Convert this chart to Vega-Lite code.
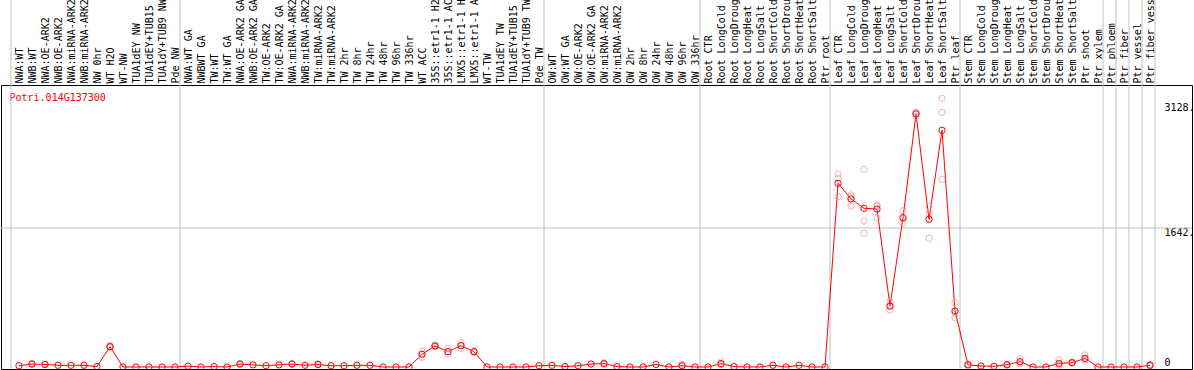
{
  "$schema": "https://vega.github.io/schema/vega-lite/v6.json",
  "width": 1191,
  "height": 284,
  "autosize": {"type": "none"},
  "padding": {"top": 85, "left": 1, "right": 2, "bottom": 1},
  "background": "white",
  "config": {"view": {"stroke": "black", "strokeWidth": 1}, "font": "DejaVu Sans Mono"},
  "datasets": {
    "means": [
      {"name": "NWA:WT", "value": 15, "edge": "start"},
      {"name": "NWB:WT", "value": 35, "edge": ""},
      {"name": "NWA:OE-ARK2", "value": 30, "edge": ""},
      {"name": "NWB:OE-ARK2", "value": 20, "edge": ""},
      {"name": "NWA:miRNA-ARK2", "value": 20, "edge": ""},
      {"name": "NWB:miRNA-ARK2", "value": 20, "edge": ""},
      {"name": "NW 0hr", "value": 5, "edge": ""},
      {"name": "WT H2O", "value": 240, "edge": ""},
      {"name": "WT-NW", "value": 0, "edge": ""},
      {"name": "TUA1dEY NW", "value": 0, "edge": ""},
      {"name": "TUA1dEY+TUB15 NW", "value": 0, "edge": ""},
      {"name": "TUA1dY+TUB9 NW", "value": 0, "edge": ""},
      {"name": "Pde NW", "value": 0, "edge": "end"},
      {"name": "NWA:WT GA", "value": 10, "edge": ""},
      {"name": "NWBWT GA", "value": 0, "edge": ""},
      {"name": "TW:WT", "value": 5, "edge": ""},
      {"name": "TW:WT GA", "value": 0, "edge": ""},
      {"name": "NWA:OE-ARK2 GA", "value": 35, "edge": ""},
      {"name": "NWB:OE-ARK2 GA", "value": 25, "edge": ""},
      {"name": "TW:OE-ARK2", "value": 15, "edge": ""},
      {"name": "TW:OE-ARK2 GA", "value": 25, "edge": ""},
      {"name": "NWA:miRNA-ARK2 GA", "value": 35, "edge": ""},
      {"name": "NWB:miRNA-ARK2 GA", "value": 20, "edge": ""},
      {"name": "TW:miRNA-ARK2", "value": 30, "edge": ""},
      {"name": "TW:miRNA-ARK2 GA", "value": 15, "edge": ""},
      {"name": "TW 2hr", "value": 15, "edge": ""},
      {"name": "TW 8hr", "value": 20, "edge": ""},
      {"name": "TW 24hr", "value": 20, "edge": ""},
      {"name": "TW 48hr", "value": 0, "edge": ""},
      {"name": "TW 96hr", "value": 0, "edge": ""},
      {"name": "TW 336hr", "value": 0, "edge": ""},
      {"name": "WT ACC", "value": 150, "edge": ""},
      {"name": "35S::etr1-1 H2O", "value": 248, "edge": ""},
      {"name": "35S::etr1-1 ACC", "value": 181, "edge": ""},
      {"name": "LMX5::etr1-1 H2O", "value": 252, "edge": ""},
      {"name": "LMX5::etr1-1 ACC", "value": 181, "edge": ""},
      {"name": "WT-TW", "value": 0, "edge": ""},
      {"name": "TUA1dEY TW", "value": 0, "edge": ""},
      {"name": "TUA1dEY+TUB15 TW", "value": 0, "edge": ""},
      {"name": "TUA1dY+TUB9 TW", "value": 0, "edge": ""},
      {"name": "Pde TW", "value": 15, "edge": "end"},
      {"name": "OW:WT", "value": 20, "edge": ""},
      {"name": "OW:WT GA", "value": 5, "edge": ""},
      {"name": "OW:OE-ARK2", "value": 15, "edge": ""},
      {"name": "OW:OE-ARK2 GA", "value": 35, "edge": ""},
      {"name": "OW:miRNA-ARK2", "value": 40, "edge": ""},
      {"name": "OW:miRNA-ARK2 GA", "value": 5, "edge": ""},
      {"name": "OW 2hr", "value": 0, "edge": ""},
      {"name": "OW 8hr", "value": 0, "edge": ""},
      {"name": "OW 24hr", "value": 30, "edge": ""},
      {"name": "OW 48hr", "value": 0, "edge": ""},
      {"name": "OW 96hr", "value": 15, "edge": ""},
      {"name": "OW 336hr", "value": 0, "edge": "end"},
      {"name": "Root CTR", "value": 0, "edge": ""},
      {"name": "Root LongCold", "value": 40, "edge": ""},
      {"name": "Root LongDrought", "value": 5, "edge": ""},
      {"name": "Root LongHeat", "value": 0, "edge": ""},
      {"name": "Root LongSalt", "value": 0, "edge": ""},
      {"name": "Root ShortCold", "value": 20, "edge": ""},
      {"name": "Root ShortDrought", "value": 0, "edge": ""},
      {"name": "Root ShortHeat", "value": 20, "edge": ""},
      {"name": "Root ShortSalt", "value": 0, "edge": ""},
      {"name": "Ptr root", "value": 0, "edge": "end"},
      {"name": "Leaf CTR", "value": 2170, "edge": ""},
      {"name": "Leaf LongCold", "value": 1985, "edge": ""},
      {"name": "Leaf LongDrought", "value": 1875, "edge": ""},
      {"name": "Leaf LongHeat", "value": 1866, "edge": ""},
      {"name": "Leaf LongSalt", "value": 720, "edge": ""},
      {"name": "Leaf ShortCold", "value": 1764, "edge": ""},
      {"name": "Leaf ShortDrought", "value": 2989, "edge": ""},
      {"name": "Leaf ShortHeat", "value": 1745, "edge": ""},
      {"name": "Leaf ShortSalt", "value": 2796, "edge": ""},
      {"name": "Ptr leaf", "value": 661, "edge": "end"},
      {"name": "Stem CTR", "value": 25, "edge": ""},
      {"name": "Stem LongCold", "value": 12, "edge": ""},
      {"name": "Stem LongDrought", "value": 8, "edge": ""},
      {"name": "Stem LongHeat", "value": 27, "edge": ""},
      {"name": "Stem LongSalt", "value": 63, "edge": ""},
      {"name": "Stem ShortCold", "value": 0, "edge": ""},
      {"name": "Stem ShortDrought", "value": 0, "edge": ""},
      {"name": "Stem ShortHeat", "value": 43, "edge": ""},
      {"name": "Stem ShortSalt", "value": 51, "edge": ""},
      {"name": "Ptr shoot", "value": 102, "edge": ""},
      {"name": "Ptr xylem", "value": 0, "edge": "end"},
      {"name": "Ptr phloem", "value": 0, "edge": "end"},
      {"name": "Ptr fiber", "value": 0, "edge": "end"},
      {"name": "Ptr vessel", "value": 0, "edge": "end"},
      {"name": "Ptr fiber vessel", "value": 20, "edge": "end"}
    ],
    "reps": [
      {"name": "NWB:WT", "value": 45}, {"name": "NWB:WT", "value": 30},
      {"name": "NWA:OE-ARK2", "value": 38}, {"name": "NWA:OE-ARK2", "value": 25},
      {"name": "WT H2O", "value": 230}, {"name": "WT H2O", "value": 250}, {"name": "WT H2O", "value": 245},
      {"name": "NWA:OE-ARK2 GA", "value": 42}, {"name": "NWA:OE-ARK2 GA", "value": 30},
      {"name": "NWA:miRNA-ARK2 GA", "value": 42}, {"name": "NWA:miRNA-ARK2 GA", "value": 30},
      {"name": "TW:miRNA-ARK2", "value": 38}, {"name": "TW:miRNA-ARK2", "value": 25},
      {"name": "WT ACC", "value": 185}, {"name": "WT ACC", "value": 150}, {"name": "WT ACC", "value": 115},
      {"name": "35S::etr1-1 H2O", "value": 260}, {"name": "35S::etr1-1 H2O", "value": 240}, {"name": "35S::etr1-1 H2O", "value": 245},
      {"name": "35S::etr1-1 ACC", "value": 220}, {"name": "35S::etr1-1 ACC", "value": 181}, {"name": "35S::etr1-1 ACC", "value": 153},
      {"name": "LMX5::etr1-1 H2O", "value": 287}, {"name": "LMX5::etr1-1 H2O", "value": 252}, {"name": "LMX5::etr1-1 H2O", "value": 220},
      {"name": "LMX5::etr1-1 ACC", "value": 190}, {"name": "LMX5::etr1-1 ACC", "value": 175}, {"name": "LMX5::etr1-1 ACC", "value": 180},
      {"name": "OW:miRNA-ARK2", "value": 50}, {"name": "OW:miRNA-ARK2", "value": 32},
      {"name": "OW 96hr", "value": 28}, {"name": "OW 96hr", "value": 10},
      {"name": "Root LongCold", "value": 62}, {"name": "Root LongCold", "value": 30}, {"name": "Root LongCold", "value": 28},
      {"name": "Leaf CTR", "value": 2280}, {"name": "Leaf CTR", "value": 2229}, {"name": "Leaf CTR", "value": 2012},
      {"name": "Leaf LongCold", "value": 2032}, {"name": "Leaf LongCold", "value": 1902}, {"name": "Leaf LongCold", "value": 2010},
      {"name": "Leaf LongDrought", "value": 2335}, {"name": "Leaf LongDrought", "value": 1725}, {"name": "Leaf LongDrought", "value": 1579},
      {"name": "Leaf LongHeat", "value": 1914}, {"name": "Leaf LongHeat", "value": 1764}, {"name": "Leaf LongHeat", "value": 1900},
      {"name": "Leaf LongSalt", "value": 772}, {"name": "Leaf LongSalt", "value": 673}, {"name": "Leaf LongSalt", "value": 720},
      {"name": "Leaf ShortCold", "value": 1847}, {"name": "Leaf ShortCold", "value": 1697}, {"name": "Leaf ShortCold", "value": 1750},
      {"name": "Leaf ShortDrought", "value": 3000}, {"name": "Leaf ShortDrought", "value": 2960}, {"name": "Leaf ShortDrought", "value": 3010},
      {"name": "Leaf ShortHeat", "value": 1902}, {"name": "Leaf ShortHeat", "value": 1816}, {"name": "Leaf ShortHeat", "value": 1520},
      {"name": "Leaf ShortSalt", "value": 3174}, {"name": "Leaf ShortSalt", "value": 3009}, {"name": "Leaf ShortSalt", "value": 2217},
      {"name": "Ptr leaf", "value": 760}, {"name": "Ptr leaf", "value": 583}, {"name": "Ptr leaf", "value": 640},
      {"name": "Stem CTR", "value": 35}, {"name": "Stem CTR", "value": 20},
      {"name": "Stem LongHeat", "value": 35}, {"name": "Stem LongHeat", "value": 20},
      {"name": "Stem LongSalt", "value": 102}, {"name": "Stem LongSalt", "value": 50}, {"name": "Stem LongSalt", "value": 40},
      {"name": "Stem ShortHeat", "value": 83}, {"name": "Stem ShortHeat", "value": 30}, {"name": "Stem ShortHeat", "value": 20},
      {"name": "Stem ShortSalt", "value": 60}, {"name": "Stem ShortSalt", "value": 45},
      {"name": "Ptr shoot", "value": 142}, {"name": "Ptr shoot", "value": 90}, {"name": "Ptr shoot", "value": 75},
      {"name": "Ptr fiber vessel", "value": 30}, {"name": "Ptr fiber vessel", "value": 20}, {"name": "Ptr fiber vessel", "value": 10}
    ]
  },
  "encoding": {
    "x": {
      "field": "name",
      "type": "ordinal",
      "scale": {
        "type": "point",
        "padding": 0,
        "range": [18, 1149],
        "domain": ["NWA:WT", "NWB:WT", "NWA:OE-ARK2", "NWB:OE-ARK2", "NWA:miRNA-ARK2", "NWB:miRNA-ARK2", "NW 0hr", "WT H2O", "WT-NW", "TUA1dEY NW", "TUA1dEY+TUB15 NW", "TUA1dY+TUB9 NW", "Pde NW", "NWA:WT GA", "NWBWT GA", "TW:WT", "TW:WT GA", "NWA:OE-ARK2 GA", "NWB:OE-ARK2 GA", "TW:OE-ARK2", "TW:OE-ARK2 GA", "NWA:miRNA-ARK2 GA", "NWB:miRNA-ARK2 GA", "TW:miRNA-ARK2", "TW:miRNA-ARK2 GA", "TW 2hr", "TW 8hr", "TW 24hr", "TW 48hr", "TW 96hr", "TW 336hr", "WT ACC", "35S::etr1-1 H2O", "35S::etr1-1 ACC", "LMX5::etr1-1 H2O", "LMX5::etr1-1 ACC", "WT-TW", "TUA1dEY TW", "TUA1dEY+TUB15 TW", "TUA1dY+TUB9 TW", "Pde TW", "OW:WT", "OW:WT GA", "OW:OE-ARK2", "OW:OE-ARK2 GA", "OW:miRNA-ARK2", "OW:miRNA-ARK2 GA", "OW 2hr", "OW 8hr", "OW 24hr", "OW 48hr", "OW 96hr", "OW 336hr", "Root CTR", "Root LongCold", "Root LongDrought", "Root LongHeat", "Root LongSalt", "Root ShortCold", "Root ShortDrought", "Root ShortHeat", "Root ShortSalt", "Ptr root", "Leaf CTR", "Leaf LongCold", "Leaf LongDrought", "Leaf LongHeat", "Leaf LongSalt", "Leaf ShortCold", "Leaf ShortDrought", "Leaf ShortHeat", "Leaf ShortSalt", "Ptr leaf", "Stem CTR", "Stem LongCold", "Stem LongDrought", "Stem LongHeat", "Stem LongSalt", "Stem ShortCold", "Stem ShortDrought", "Stem ShortHeat", "Stem ShortSalt", "Ptr shoot", "Ptr xylem", "Ptr phloem", "Ptr fiber", "Ptr vessel", "Ptr fiber vessel"]
      },
      "axis": {
        "orient": "top",
        "labelAngle": -90,
        "labelAlign": "left",
        "labelBaseline": "middle",
        "labelPadding": 2,
        "ticks": false,
        "domain": false,
        "grid": false,
        "labelFont": "DejaVu Sans Mono",
        "labelFontSize": 10,
        "labelColor": "black",
        "labelOverlap": false,
        "labelLimit": 0,
        "title": null
      }
    },
    "y": {
      "field": "value",
      "type": "quantitative",
      "scale": {"domain": [-23.6, 3331], "zero": false, "nice": false},
      "axis": {
        "orient": "right",
        "values": [0, 1642, 3128],
        "labelExpr": "datum.value == 0 ? '0' : datum.value + '.'",
        "ticks": false,
        "tickSize": 0,
        "domain": false,
        "labelPadding": -28,
        "labelAlign": "left",
        "labelBaseline": {"condition": {"test": "datum.value == 0", "value": "bottom"}, "value": "top"},
        "labelFont": "DejaVu Sans Mono",
        "labelFontSize": 10,
        "labelColor": "black",
        "labelFlush": false,
        "labelOverlap": false,
        "grid": false,
        "title": "Potri.014G137300",
        "titleAngle": 0,
        "titleX": -1183,
        "titleY": 12,
        "titleAlign": "left",
        "titleBaseline": "middle",
        "titleColor": "red",
        "titleFont": "DejaVu Sans Mono",
        "titleFontSize": 10,
        "titleFontWeight": "normal"
      }
    }
  },
  "layer": [
    {
      "data": {"values": [{"tick": 1642}]},
      "mark": {"type": "rule", "color": "#c0c0c0", "strokeWidth": 1},
      "encoding": {"x": {"value": 0}, "x2": {"value": 1191}, "y": {"field": "tick", "type": "quantitative"}}
    },
    {
      "data": {"name": "means"},
      "transform": [{"filter": "datum.edge == 'end'"}],
      "mark": {"type": "rule", "color": "#c0c0c0", "strokeWidth": 1, "xOffset": 5, "clip": false},
      "encoding": {"y": {"value": -85}, "y2": {"value": 284}}
    },
    {
      "data": {"name": "means"},
      "transform": [{"filter": "datum.edge == 'start'"}],
      "mark": {"type": "rule", "color": "#c0c0c0", "strokeWidth": 1, "xOffset": -8, "clip": false},
      "encoding": {"y": {"value": -85}, "y2": {"value": 284}}
    },
    {
      "data": {"name": "means"},
      "mark": {"type": "line", "color": "red", "strokeWidth": 1, "clip": true}
    },
    {
      "data": {"name": "reps"},
      "mark": {"type": "point", "shape": "circle", "filled": false, "color": "#e89696", "size": 40, "strokeWidth": 1, "clip": true}
    },
    {
      "data": {"name": "means"},
      "mark": {"type": "point", "shape": "circle", "filled": false, "color": "red", "size": 40, "strokeWidth": 1, "opacity": 1, "clip": true}
    }
  ]
}
